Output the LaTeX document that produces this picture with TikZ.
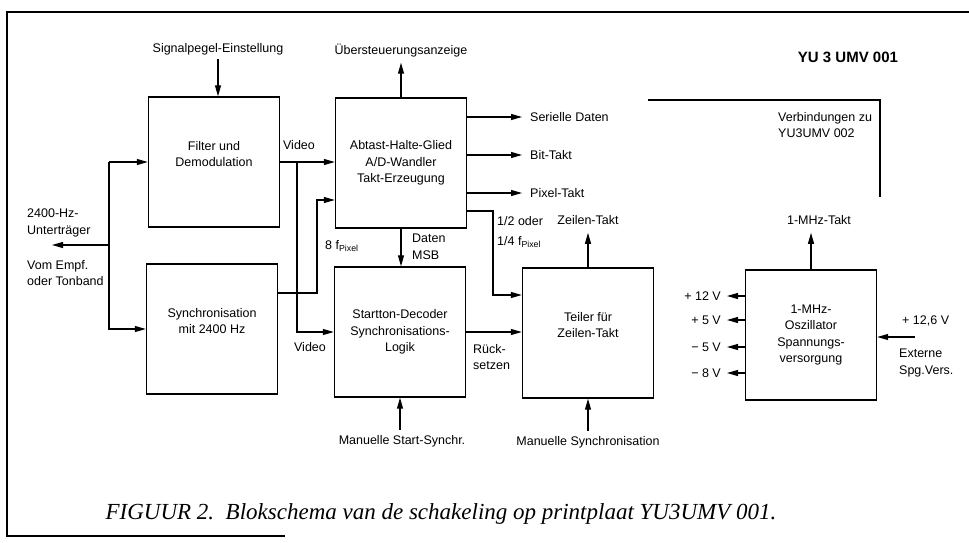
\documentclass[tikz,border=0pt]{standalone}
\usepackage{fontspec}
\setmainfont{Liberation Sans}
\newfontfamily\capfont{Liberation Serif}
\usetikzlibrary{arrows.meta}

\begin{document}
\begin{tikzpicture}[x=1pt,y=-1pt,
        every node/.style={font=\fontsize{12.5}{16.5}\selectfont},
        box/.style={draw,line width=1.4pt,minimum width=131pt,minimum height=130pt,align=center,inner sep=0pt},
        txt/.style={inner sep=0pt,align=left},
        arr/.style={-{Triangle[length=11pt,width=6pt]},line width=1.1pt}]
    \useasboundingbox (0,0) rectangle (969,542);

    \node[box] (filt) at (214,162) {Filter und\\Demodulation\\~};
    \node[box] (sync) at (212,329) {Synchronisation\\mit 2400 Hz\\~};
    \node[box] (abt) at (401,163) {Abtast-Halte-Glied\\A/D-Wandler\\Takt-Erzeugung};
    \node[box] (start) at (400,332) {Startton-Decoder\\Synchronisations-\\Logik};
    \node[box] (teil) at (588,333) {Teiler für\\Zeilen-Takt\\~};
    \node[box] (osz) at (811,335) {1-MHz-\\Oszillator\\Spannungs-\\versorgung};

    \node[txt] (sig) at (218,49) {Signalpegel-Einstellung};
    \node[txt] (ueb) at (401,51) {Übersteuerungsanzeige};
    \node[txt,font=\fontsize{15}{18}\selectfont\bfseries] (titel) at (848,57) {YU 3 UMV 001};
    \node[txt,anchor=west] (verb) at (778,125) {Verbindungen zu\\YU3UMV 002};
    \node[txt] (mhz) at (819,220) {1-MHz-Takt};
    \node[txt,anchor=west] (ser) at (530,117) {Serielle Daten};
    \node[txt,anchor=west] (bit) at (530,155) {Bit-Takt};
    \node[txt,anchor=west] (pix) at (530,193) {Pixel-Takt};
    \node[txt] (zt) at (588,220) {Zeilen-Takt};
    \node[txt,anchor=west] (teilv) at (497,232) {1/2 oder\\[3pt]1/4 f\textsubscript{Pixel}};
    \node[txt,anchor=west] (daten) at (412,247) {Daten\\MSB};
    \node[txt,anchor=west] (acht) at (325,246) {8 f\textsubscript{Pixel}};
    \node[txt] (vid1) at (299,145) {Video};
    \node[txt] (vid2) at (310,347) {Video};
    \node[txt,anchor=west] (ein) at (27,223) {2400-Hz-\\Unterträger};
    \node[txt,anchor=west] (quel) at (27,273) {Vom Empf.\\oder Tonband};
    \node[txt,anchor=west] (rueck) at (473,357) {Rück-\\setzen};
    \node[txt] (mss) at (402,441) {Manuelle Start-Synchr.};
    \node[txt] (msy) at (588,442) {Manuelle Synchronisation};
    \node[txt,anchor=east] (p12) at (721,296) {+ 12 V};
    \node[txt,anchor=east] (p5) at (721,320) {+ 5 V};
    \node[txt,anchor=east] (m5) at (721,347) {− 5 V};
    \node[txt,anchor=east] (m8) at (721,373) {− 8 V};
    \node[txt,anchor=west] (ext1) at (902,321) {+ 12,6 V};
    \node[txt,anchor=west] (ext2) at (899,363) {Externe\\Spg.Vers.};
    \node[txt,font=\capfont\itshape\fontsize{23}{27}\selectfont] (cap) at (441,514)
        {FIGUUR 2.\ \ Blokschema van de schakeling op printplaat YU3UMV 001.};

    \coordinate (inp) at (109,245);
    \coordinate (inend) at (52,245);
    \coordinate (vabz) at (297,162);
    \coordinate (pa) at (317,293);
    \coordinate (pb) at (317,200);
    \coordinate (ta) at (493,211);
    \coordinate (tb) at (493,295);
    \coordinate (vb1) at (648,100);
    \coordinate (vb2) at (880,100);
    \coordinate (vb3) at (880,197);
    \coordinate (extin) at (915,337);

    \draw[arr,shorten <=4pt] (sig) -- (sig |- filt.north);
    \draw[arr,shorten >=5pt] (abt.north) -- (abt.north |- ueb.south);
    \draw[arr,shorten >=8pt] (abt.east |- ser) -- (ser.west);
    \draw[arr,shorten >=8pt] (abt.east |- bit) -- (bit.west);
    \draw[arr,shorten >=8pt] (abt.east |- pix) -- (pix.west);
    \draw[arr] (abt.east |- ta) -- (ta) -- (tb) -- (teil.west |- tb);
    \draw[arr,shorten >=8pt] (teil.north) -- (teil.north |- zt.south);
    \draw[arr] (abt.south) -- (abt.south |- start.north);
    \draw[arr] (filt.east) -- (abt.west |- filt.east);
    \draw[arr] (vabz) |- (start.west);
    \draw[arr] (sync.east |- pa) -- (pa) -- (pb) -- (abt.west |- pb);
    \draw[arr] (inp |- filt.west) -- (filt.west);
    \draw[arr] (inp |- filt.west) |- (sync.west);
    \draw[arr] (inp) -- (inend);
    \draw[arr] (start.east) -- (teil.west |- start.east);
    \draw[arr,shorten <=5pt] (start.south |- mss.north) -- (start.south);
    \draw[arr,shorten <=5pt] (teil.south |- msy.north) -- (teil.south);
    \draw[arr,shorten >=8pt] (osz.north) -- (osz.north |- mhz.south);
    \draw[arr,shorten >=6pt] (osz.west |- p12) -- (p12.east);
    \draw[arr,shorten >=6pt] (osz.west |- p5) -- (p5.east);
    \draw[arr,shorten >=6pt] (osz.west |- m5) -- (m5.east);
    \draw[arr,shorten >=6pt] (osz.west |- m8) -- (m8.east);
    \draw[arr] (extin) -- (osz.east |- extin);
    \draw[line width=2.2pt] (vb1) -- (vb2) -- (vb3);
    \draw[line width=1.3pt] (285,536) -- (7,536) -- (7,12) -- (969,12);
\end{tikzpicture}
\end{document}
